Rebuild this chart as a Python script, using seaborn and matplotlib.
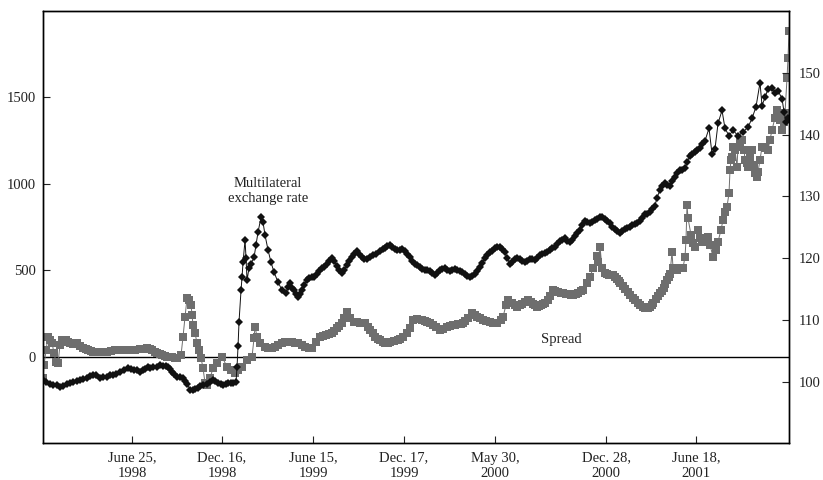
import seaborn as sns
import matplotlib.pyplot as plt

sns.set_style("ticks")
plt.rcParams['font.family'] = ['Liberation Serif', 'DejaVu Serif']

# observation position along the sample (Jan 1998 - Dec 2001)
spread_t = [0, 1, 3, 5, 7, 9, 11, 13, 15, 17,
            19, 21, 23, 25, 27, 30, 34, 37, 40, 43,
            45, 48, 50, 53, 57, 60, 64, 68, 72, 76,
            80, 84, 87, 92, 97, 100, 104, 107, 109, 112,
            114, 117, 119, 122, 124, 127, 129, 132, 134,
            138, 140, 142, 144, 146, 148, 149, 150, 152, 154,
            156, 158, 160, 162, 164, 167, 170, 174, 179, 184,
            188, 192, 195, 199, 204, 209, 211, 212, 214, 217,
            222, 225, 229, 232, 235, 239, 242, 245, 249, 252,
            255, 259, 262, 266, 269, 273, 277, 280, 283, 286,
            289, 291, 294, 296, 299, 301, 304, 307, 311, 314,
            317, 320, 322, 325, 327, 330, 332, 335, 337, 340,
            342, 345, 347, 351, 355, 357, 360, 364, 367, 370,
            374, 379, 382, 384, 387, 390, 393, 397, 400, 404,
            407, 410, 412, 415, 418, 420, 422, 425, 429, 432,
            434, 437, 440, 443, 447, 450, 454, 458, 460, 463,
            465, 469, 472, 474, 477, 479, 482, 485, 488, 490,
            492, 494, 496, 498, 500, 502, 505, 507, 510, 512,
            515, 518, 520, 523, 525, 528, 530, 533, 535, 538,
            540, 544, 547, 550, 554, 555, 557, 559, 562, 564,
            566, 568, 570, 572, 574, 576, 577, 580, 582, 585,
            587, 590, 592, 595, 597, 600, 602, 605, 607, 609,
            610, 613, 615, 617, 619, 621, 622, 624, 626, 627,
            629, 630, 634, 637, 640, 642, 643, 644, 645, 648,
            650, 652, 655, 657, 659, 662, 665, 667, 670, 673,
            675, 678, 680, 682, 684, 686, 687, 688, 689, 690,
            692, 694, 695, 697, 699, 701, 702, 704, 705, 707,
            709, 711, 712, 714, 715, 717, 719, 722, 725, 727,
            729, 732, 734, 736, 737, 739, 741, 742, 744, 745,
            746]
spread_val = [-123, -48, 39, 116, 97, 80, 20, -30, -35, 70,
              97, 95, 97, 88, 79, 75, 79, 65, 50, 45,
              39, 35, 29, 29, 29, 29, 29, 35, 39, 39,
              39, 39, 39, 42, 45, 48, 50, 45, 39, 30,
              21, 15, 10, 5, 0, 0, -2, -5, -8,
              10, 116, 232, 338, 328, 299, 241, 184, 137, 79,
              39, -8, -65, -153, -164, -123, -65, -36, 0, -58,
              -77, -94, -77, -58, -19, 0, 108, 174, 116, 79,
              58, 52, 49, 58, 68, 78, 87, 86, 85, 82,
              78, 68, 58, 52, 49, 85, 116, 121, 126, 130,
              136, 150, 166, 180, 193, 225, 261, 224, 203, 200,
              198, 196, 193, 175, 155, 135, 116, 105, 97, 88,
              78, 80, 85, 90, 97, 102, 116, 136, 166, 213,
              218, 213, 208, 203, 195, 184, 170, 155, 162, 172,
              178, 184, 186, 189, 191, 193, 205, 224, 251, 240,
              230, 222, 213, 207, 201, 197, 193, 213, 232, 299,
              328, 311, 300, 290, 298, 305, 318, 328, 315, 305,
              297, 290, 295, 299, 304, 309, 330, 352, 386, 380,
              375, 371, 367, 365, 363, 360, 357, 362, 369, 378,
              386, 427, 463, 512, 583, 548, 637, 514, 485, 478,
              473, 474, 473, 462, 450, 438, 425, 408, 392, 375,
              357, 342, 326, 312, 299, 290, 282, 284, 288, 298,
              309, 334, 350, 367, 382, 398, 420, 444, 462, 479,
              608, 514, 502, 514, 514, 579, 676, 879, 802, 705,
              659, 637, 734, 688, 666, 676, 695, 647, 579, 618,
              666, 734, 792, 838, 869, 946, 1081, 1139, 1158, 1216,
              1197, 1100, 1216, 1244, 1255, 1197, 1139, 1122, 1100, 1151,
              1197, 1110, 1062, 1043, 1070, 1139, 1216, 1209, 1197, 1255,
              1313, 1383, 1429, 1394, 1371, 1313, 1359, 1410, 1612, 1728,
              1882]

mer_t = [0, 3, 7, 10, 14, 17, 20, 24, 27, 30,
         34, 37, 40, 44, 47, 50, 53, 57, 60, 64,
         67, 70, 73, 77, 81, 85, 88, 91, 94, 97,
         100, 102, 105, 107, 110, 114, 117, 120, 123, 125,
         127, 129, 131, 134, 137, 140, 142, 144, 147, 150,
         152, 155, 157, 160, 164, 167, 170, 172, 175, 178,
         180, 183, 185, 188, 190, 193, 194, 195, 196, 198,
         199, 200, 202, 203, 204, 206, 208, 211, 213, 215,
         218, 220, 222, 225, 228, 231, 235, 239, 243, 245,
         247, 249, 251, 253, 255, 257, 259, 261, 264, 266,
         269, 271, 274, 276, 279, 281, 284, 286, 289, 291,
         294, 296, 299, 301, 304, 306, 309, 311, 314, 316,
         319, 321, 324, 327, 330, 333, 337, 340, 342, 344,
         347, 349, 352, 354, 357, 359, 362, 364, 367, 369,
         372, 374, 377, 379, 382, 384, 387, 389, 392, 394,
         397, 399, 402, 404, 407, 409, 412, 414, 417, 419,
         422, 424, 427, 429, 432, 434, 437, 439, 442, 444,
         447, 449, 452, 454, 457, 459, 462, 464, 467, 469,
         472, 474, 477, 479, 482, 484, 487, 489, 492, 494,
         497, 499, 502, 504, 507, 509, 512, 514, 517, 519,
         522, 524, 527, 529, 532, 534, 537, 539, 542, 544,
         547, 549, 552, 554, 557, 559, 562, 564, 567, 569,
         572, 574, 577, 579, 582, 584, 587, 589, 592, 594,
         597, 599, 602, 604, 607, 609, 612, 614, 617, 619,
         622, 624, 627, 629, 632, 634, 637, 639, 642, 644,
         647, 649, 652, 654, 657, 659, 662, 666, 669, 672,
         675, 679, 682, 686, 690, 695, 700, 705, 709, 713,
         717, 719, 722, 725, 729, 732, 735, 739, 741, 743,
         745]
mer_val = [100.3, 99.9, 99.6, 99.4, 99.5, 99.1, 99.3, 99.6, 99.8, 100.0,
           100.1, 100.3, 100.4, 100.6, 100.9, 101.1, 101.0, 100.6, 100.7, 100.8,
           101.0, 101.1, 101.3, 101.6, 101.9, 102.2, 102.1, 101.9, 101.8, 101.6,
           101.9, 102.1, 102.3, 102.2, 102.3, 102.4, 102.6, 102.5, 102.5, 102.4,
           102.0, 101.6, 101.2, 100.8, 100.7, 100.6, 100.1, 99.6, 98.7, 98.7,
           98.8, 99.0, 99.2, 99.4, 99.6, 99.9, 100.3, 100.1, 99.8, 99.6,
           99.5, 99.6, 99.8, 99.8, 99.8, 99.9, 102.4, 105.7, 109.7, 114.8,
           116.9, 119.3, 122.9, 120.0, 116.4, 118.4, 119.1, 120.1, 122.1, 124.2,
           126.6, 125.8, 123.7, 121.3, 119.3, 117.7, 116.1, 114.8, 114.3, 115.3,
           115.9, 115.2, 114.8, 114.1, 113.7, 114.2, 114.8, 115.6, 116.4, 116.8,
           116.9, 117.0, 117.4, 117.9, 118.4, 118.6, 119.0, 119.6, 120.0, 119.5,
           118.7, 118.0, 117.6, 118.1, 118.8, 119.5, 120.1, 120.7, 121.1, 120.6,
           120.1, 119.8, 119.8, 120.2, 120.5, 120.6, 121.1, 121.5, 121.7, 121.9,
           122.1, 121.8, 121.4, 121.3, 121.3, 121.4, 121.1, 120.6, 120.1, 119.6,
           119.1, 118.8, 118.5, 118.2, 118.0, 118.1, 117.9, 117.5, 117.2, 117.5,
           118.0, 118.3, 118.4, 118.1, 117.9, 118.1, 118.2, 118.0, 117.9, 117.7,
           117.4, 117.1, 116.9, 117.1, 117.4, 117.9, 118.5, 119.2, 120.0, 120.5,
           120.9, 121.2, 121.6, 121.8, 121.8, 121.4, 120.9, 120.0, 119.1, 119.4,
           119.8, 120.0, 119.8, 119.5, 119.4, 119.6, 119.8, 119.8, 119.7, 120.0,
           120.5, 120.6, 120.8, 121.0, 121.3, 121.6, 121.8, 122.2, 122.7, 123.0,
           123.2, 122.8, 122.6, 123.0, 123.5, 124.0, 124.5, 125.3, 126.0, 125.8,
           125.7, 125.9, 126.1, 126.4, 126.6, 126.6, 126.4, 126.0, 125.6, 125.1,
           124.7, 124.3, 124.0, 124.3, 124.7, 124.9, 125.1, 125.3, 125.5, 125.7,
           126.0, 126.5, 127.1, 127.2, 127.4, 127.9, 128.5, 129.8, 131.0, 131.6,
           132.1, 131.8, 131.6, 132.4, 133.2, 133.7, 134.2, 134.3, 134.5, 135.5,
           136.6, 136.8, 137.1, 137.5, 137.9, 138.4, 139.0, 141.0, 136.9, 137.7,
           141.8, 143.9, 141.0, 139.8, 140.7, 139.8, 140.4, 141.2, 142.6, 144.5,
           148.4, 144.7, 146.0, 147.4, 147.6, 146.8, 147.1, 145.8, 143.7, 142.1,
           142.6]

tick_pos = [89, 179, 270, 361, 452, 563, 653]
tick_labels = ['June 25,\n1998', 'Dec. 16,\n1998', 'June 15,\n1999', 'Dec. 17,\n1999',
               'May 30,\n2000', 'Dec. 28,\n2000', 'June 18,\n2001']

fig = plt.figure(figsize=(8.23, 4.8), dpi=100)
ax = fig.add_axes([0.0523, 0.0765, 0.9064, 0.9005])
ax2 = ax.twinx()

sns.lineplot(x=spread_t, y=spread_val, ax=ax, color='#6e6e6e', marker='s',
             markersize=5.6, markeredgewidth=0, linewidth=0.7,
             estimator=None, sort=True)
sns.lineplot(x=mer_t, y=mer_val, ax=ax2, color='#111111', marker='D',
             markersize=4.5, markeredgewidth=0, linewidth=0.7,
             estimator=None, sort=True)

ax.axhline(0, color='black', linewidth=1.0, zorder=1)

ax.set_xlim(0, 746)
ax.set_ylim(-500, 2000)
ax2.set_ylim(90, 160)
ax.set_yticks([0, 500, 1000, 1500])
ax2.set_yticks([100, 110, 120, 130, 140, 150])
ax.set_xticks(tick_pos, tick_labels)
ax.set_xlabel('')
ax.set_ylabel('')
ax2.set_ylabel('')

ax.tick_params(axis='both', direction='in', length=5, width=0.8,
               labelsize=10.5, colors='#222222', pad=5)
ax.tick_params(axis='x', pad=6)
ax2.tick_params(axis='y', direction='in', length=5, width=0.8,
                labelsize=10.5, colors='#222222', pad=7)
for a in (ax, ax2):
    for s in a.spines.values():
        s.set_color('black')
        s.set_linewidth(1.0)

ax.text(225, 960, 'Multilateral\nexchange rate', ha='center', va='center',
        fontsize=10.5, color='#222222', linespacing=1.2)
ax.text(518, 103, 'Spread', ha='center', va='center', fontsize=10.5,
        color='#222222')

fig.savefig('out.png', dpi=100)
